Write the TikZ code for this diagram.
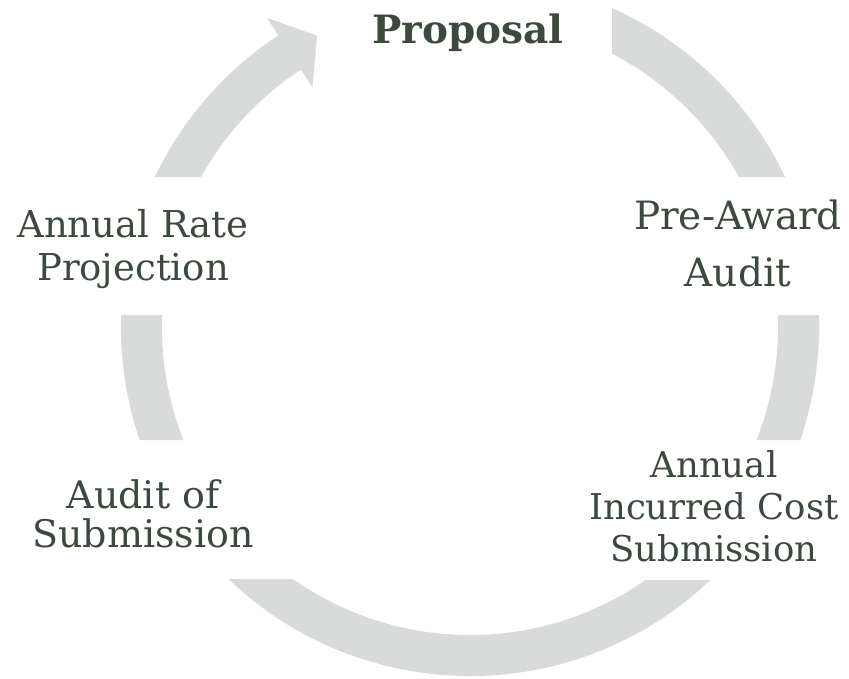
\documentclass[tikz,border=0pt]{standalone}
\usepackage{fontspec}
\setmainfont{DejaVu Serif}
\definecolor{ringgrey}{HTML}{D9DADA}
\definecolor{labelink}{HTML}{3B4A3D}
\tikzset{
  ring/.style={fill=ringgrey},
  lbl/.style={text=labelink, align=center, inner sep=0pt},
}
\begin{document}
\begin{tikzpicture}[x=1pt, y=-1pt]
\useasboundingbox (0,0) rectangle (849,678);

% cycle ring, broken where the stage labels sit
\begin{scope}[even odd rule]
  \clip (-10,-10) rectangle (860,690)
    (330,-10) rectangle (612,70)
    (600,177) rectangle (860,315)
    (560,440) rectangle (860,580)
    (-10,440) rectangle (320,579)
    (-10,177) rectangle (280,315);
  \begin{scope}[shift={(470,327)}, yscale=-1]
    \fill[ring] (80:349) arc[start angle=80, end angle=-236.7, radius=349]
      -- (123.3:370) -- (117.7:329) -- (123.3:287) -- (123.3:308)
      arc[start angle=123.3, end angle=440, radius=308] -- cycle;
  \end{scope}
\end{scope}

% stage labels
\node[lbl, anchor=base, font=\bfseries\fontsize{39}{44}\selectfont] (proposal) at (468,43) {Proposal};
\node[lbl, font=\fontsize{39}{57}\selectfont] (preaward) at (738,243) {Pre-Award\\Audit};
\node[lbl, font=\fontsize{35.5}{42}\selectfont] (incurred) at (714,506) {Annual\\Incurred Cost\\Submission};
\node[lbl, font=\fontsize{38}{38.5}\selectfont] (auditsub) at (143,514) {Audit of\\Submission};
\node[lbl, font=\fontsize{37}{43.5}\selectfont] (rate) at (133,249) {Annual Rate\\Projection};
\end{tikzpicture}
\end{document}
